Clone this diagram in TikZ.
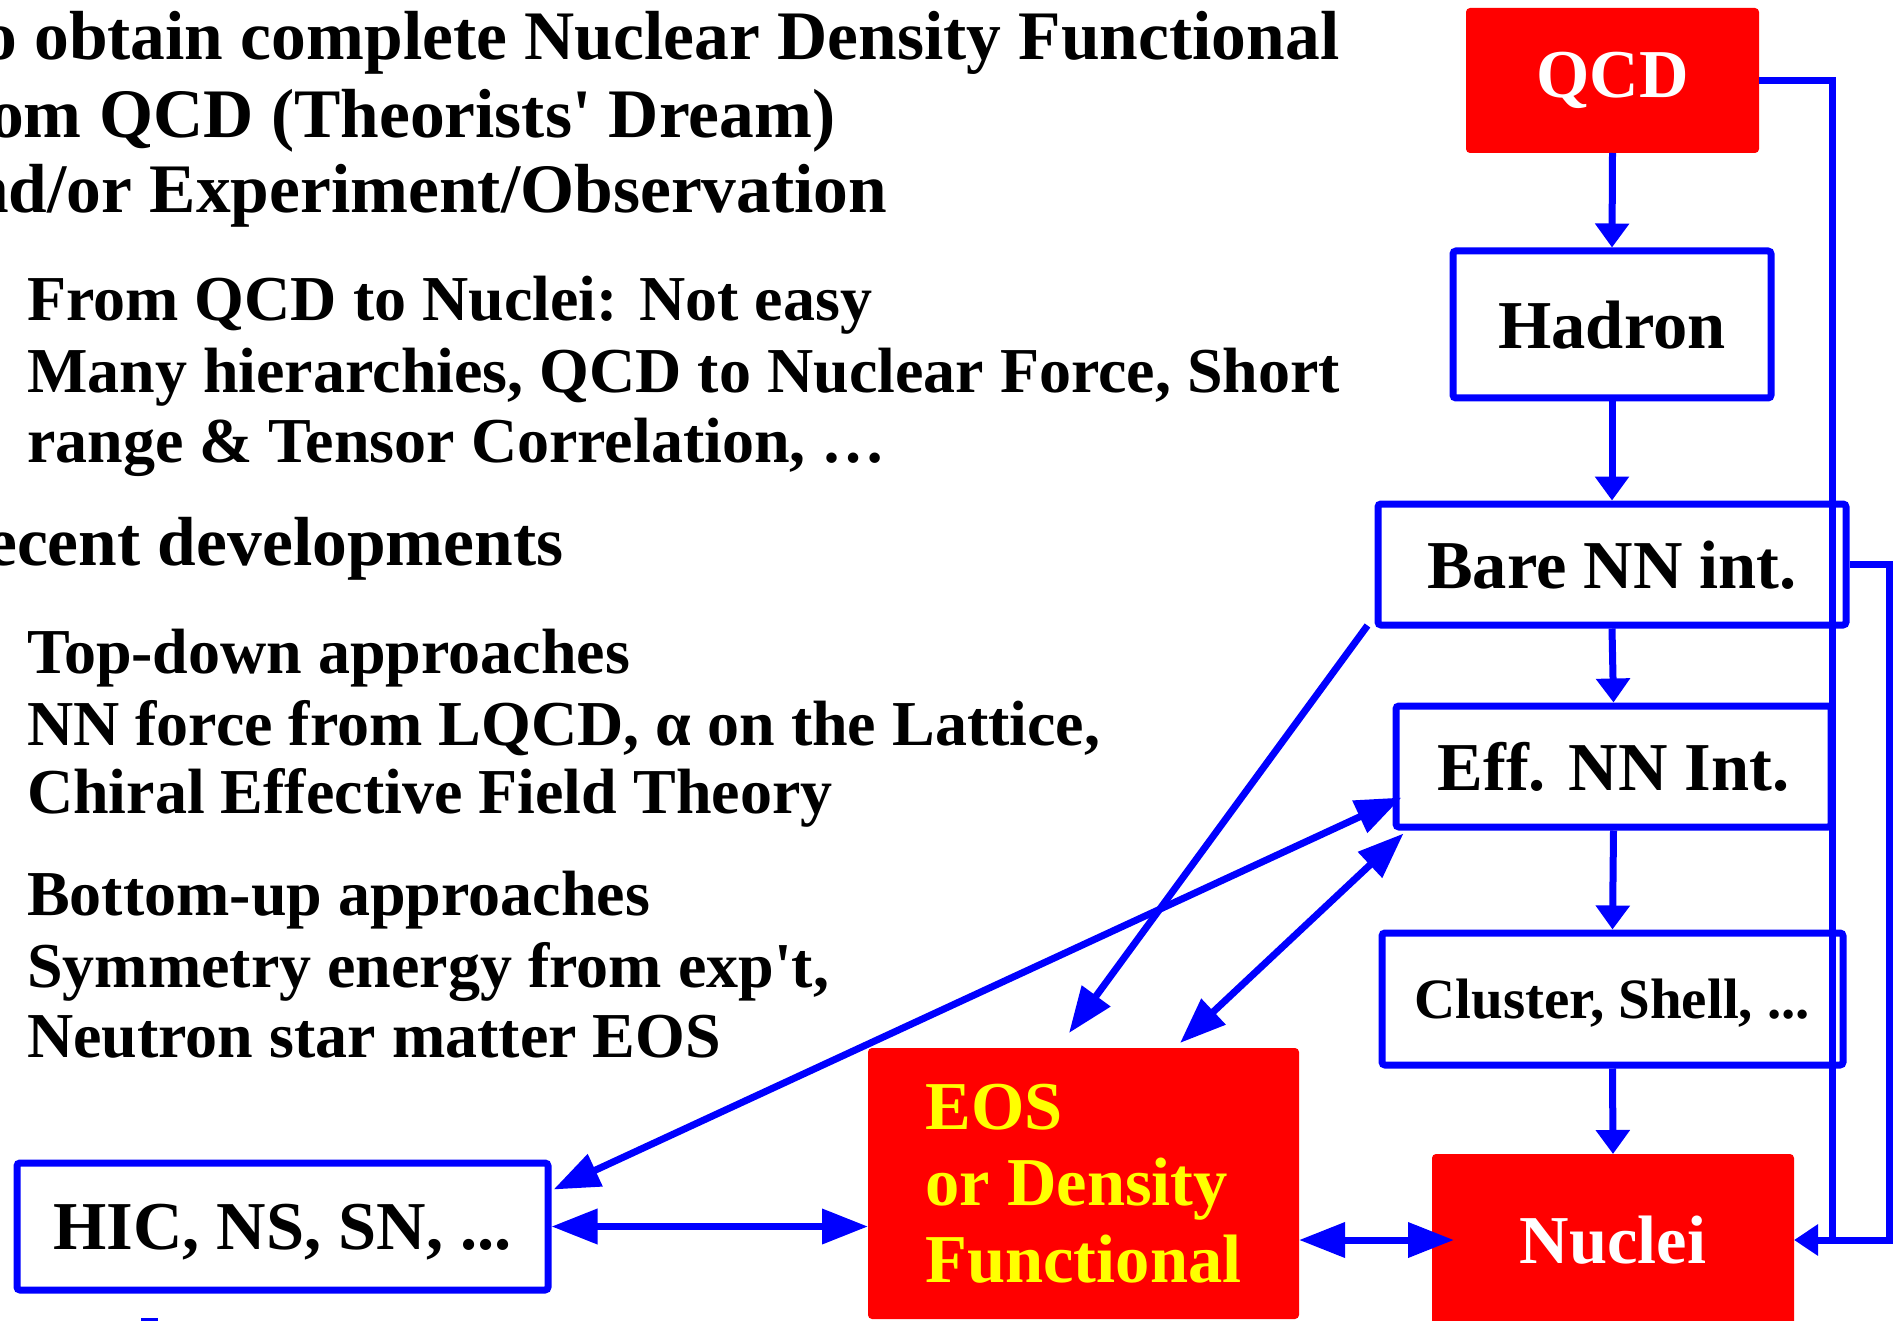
\documentclass[tikz,border=0pt]{standalone}
\usepackage{fontspec}
\setmainfont{Liberation Serif}
\usetikzlibrary{arrows.meta,calc}
\definecolor{pblue}{RGB}{0,0,255}
\definecolor{pred}{RGB}{255,0,0}
\definecolor{pyellow}{RGB}{255,255,0}
\begin{document}
\begin{tikzpicture}[x=1pt,y=-1pt,
  bluebox/.style={draw=pblue,line width=7pt,fill=white,rounded corners=3pt,inner sep=0pt,text depth=0pt,align=center,font=\bfseries\fontsize{68.5}{76}\selectfont},
  redbox/.style={fill=pred,rounded corners=4pt,inner sep=0pt,outer sep=0pt,align=center,font=\bfseries\fontsize{68.5}{76.5}\selectfont},
  conn/.style={draw=pblue,line width=7pt},
  down/.style={conn,-{Triangle[length=24pt,width=33pt]}},
  big/.style={conn,{Triangle[length=46pt,width=34pt]}-{Triangle[length=46pt,width=34pt]}},
  single/.style={conn,-{Triangle[length=46pt,width=34pt]}},
  head/.style={anchor=base west,inner sep=0pt,font=\bfseries\fontsize{69.5}{76}\selectfont},
  sub/.style={anchor=base west,inner sep=0pt,font=\bfseries\fontsize{64}{70}\selectfont},
]
\useasboundingbox (0,0) rectangle (1893,1321);
\clip (0,0) rectangle (1893,1321);

% left text
\node[head] (t1) at (-18,60) {o obtain complete Nuclear Density Functional};
\node[head] (t2) at (-11,138) {om QCD (Theorists\textquotesingle{} Dream)};
\node[head] (t3) at (-30,213) {nd/or Experiment/Observation};
\node[sub] (s1) at (27,321) {From QCD to Nuclei: Not easy};
\node[sub] (s2) at (27,392) {Many hierarchies, QCD to Nuclear Force, Short};
\node[sub] (s3) at (27,462) {range \& Tensor Correlation, …};
\node[head] (t4) at (-14,565) {ecent developments};
\node[sub] (s4) at (27,673) {Top-down approaches};
\node[sub] (s5) at (27,745) {NN force from LQCD, α on the Lattice,};
\node[sub] (s6) at (27,813) {Chiral Effective Field Theory};
\node[sub] (s7) at (27,915) {Bottom-up approaches};
\node[sub] (s8) at (27,987) {Symmetry energy from exp\textquotesingle{}t,};
\node[sub] (s9) at (27,1057) {Neutron star matter EOS};

% boxes
\node[redbox,text=white,minimum width=293pt,minimum height=145pt] (QCD) at (1612.5,80.5) {QCD};
\node[bluebox,minimum width=318pt,minimum height=147pt] (Had) at (1612,324.5) {Hadron};
\node[bluebox,minimum width=468pt,minimum height=121pt] (Bare) at (1612,564.5) {Bare NN int.};
\node[bluebox,minimum width=435pt,minimum height=121pt] (Eff) at (1613.5,766.5) {Eff. NN Int.};
\node[bluebox,minimum width=461pt,minimum height=132pt,font=\bfseries\fontsize{57}{64}\selectfont] (Clu) at (1612.5,999) {Cluster, Shell, ...};
\node[redbox,text=white,minimum width=362pt,minimum height=172pt] (Nuc) at (1613,1240) {Nuclei};
\node[bluebox,minimum width=531pt,minimum height=127pt] (HIC) at (282.5,1226.5) {HIC, NS, SN, ...};
\node[redbox,text=pyellow,minimum width=431pt,minimum height=271pt,align=left] (EOS) at (1083.5,1183.5) {EOS\\or Density\\Functional};

% vertical chain
\draw[down] (QCD.south) -- (Had.north);
\draw[down] (Had.south) -- (Bare.north);
\draw[down] (Bare.south) -- (Eff.north);
\draw[down] (Eff.south) -- (Clu.north);
\draw[down] (Clu.south) -- (Nuc.north);

% right feedback lines
\coordinate (qc) at (1832,1240);
\coordinate (bc) at (1889,1240);
\draw[conn] (Bare.east) -| (bc) -- (qc);
\draw[conn,-{Triangle[length=24pt,width=30pt]}] (QCD.east) -| (qc) -- (Nuc.east);

% diagonal connectors
\draw[single] ($(Bare.south west)+(-7,-3)$) -- ($(EOS.north west)+(201,-15)$);
\draw[big] ($(HIC.north east)+(2,30)$) -- ($(Eff.south west)+(9,-33)$);
\draw[big] ($(EOS.north west)+(312,-5)$) -- ($(Eff.south west)+(11,3)$);

% horizontal double arrows
\draw[big] (HIC.east) -- (HIC.east -| EOS.west);
\draw[big] (EOS.east |- Nuc.west) -- ($(Nuc.west)+(22,0)$);

% small mark at bottom
\fill[pblue] (141,1318) rectangle (158,1321);
\end{tikzpicture}
\end{document}
